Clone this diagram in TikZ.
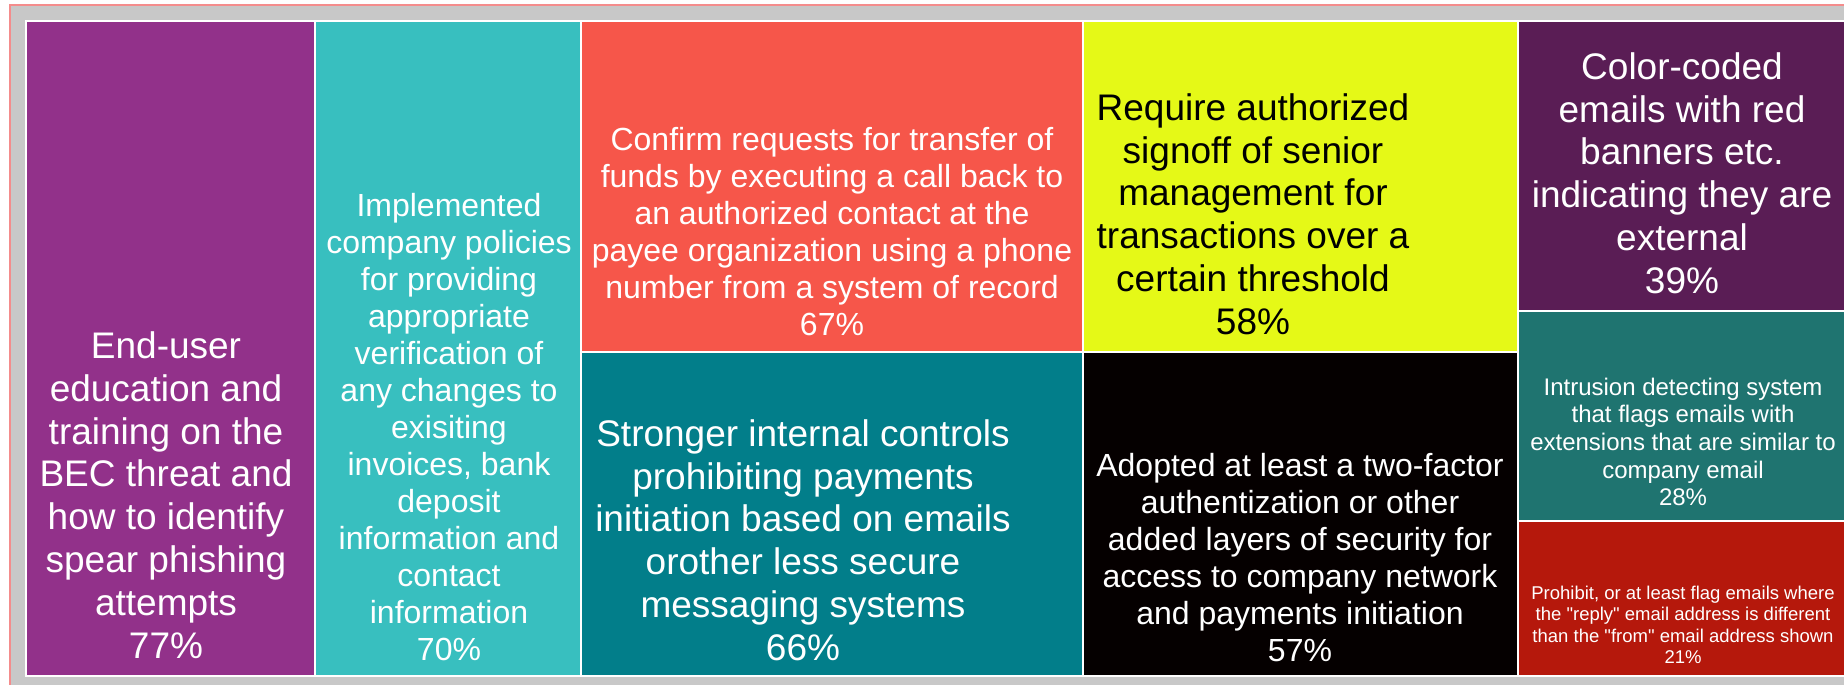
\documentclass[tikz,border=0pt]{standalone}
\usepackage{fontspec}
\setmainfont{Liberation Sans}
\definecolor{tmpurple}{RGB}{146, 49, 138}
\definecolor{tmaqua}{RGB}{56, 191, 191}
\definecolor{tmcoral}{RGB}{246, 86, 74}
\definecolor{tmteal}{RGB}{2, 126, 138}
\definecolor{tmlime}{RGB}{229, 249, 23}
\definecolor{tmblack}{RGB}{5, 0, 0}
\definecolor{tmplum}{RGB}{90, 29, 85}
\definecolor{tmsea}{RGB}{31, 116, 112}
\definecolor{tmred}{RGB}{181, 24, 12}
\definecolor{framegray}{RGB}{200, 200, 200}
\definecolor{framepink}{RGB}{244, 140, 140}

\begin{document}
\begin{tikzpicture}[x=1pt, y=1pt,
  lbl/.style={align=center, text=white, inner sep=0pt},
  hugelbl/.style={lbl, font=\fontsize{37}{42.8}\selectfont},
  biglbl/.style={lbl, font=\fontsize{32}{37}\selectfont},
  midlbl/.style={lbl, font=\fontsize{24}{27.6}\selectfont},
  smalllbl/.style={lbl, font=\fontsize{18.5}{21.4}\selectfont}]
  \useasboundingbox (0, 0) rectangle (1844, 685);

  % Frame behind the treemap
  \shade[left color=framegray, middle color=white, right color=framegray] (10, -5) rectangle (1850, 680);
  \draw[framepink, line width=1.5pt] (10, -5) -- (10, 680) -- (1850, 680);

  % Tiles
  \foreach \xa/\ya/\xb/\yb/\col in {26/9/315/664/tmpurple, 315/9/581/664/tmaqua, 581/333/1083/664/tmcoral, 581/9/1083/333/tmteal, 1083/333/1518/664/tmlime, 1083/9/1518/333/tmblack, 1518/374/1850/664/tmplum, 1518/164/1850/374/tmsea, 1518/9/1850/164/tmred} {
    \filldraw[fill=\col, draw=white, line width=1.2pt] (\xa, \ya) rectangle (\xb, \yb);
  }

  % Labels
  \node[hugelbl] (enduser) at (166, 190) {End-user\\education and\\training on the\\BEC threat and\\how to identify\\spear phishing\\attempts\\77\%};
  \node[biglbl] (policies) at (449, 258) {Implemented\\company policies\\for providing\\appropriate\\verification of\\any changes to\\exisiting\\invoices, bank\\deposit\\information and\\contact\\information\\70\%};
  \node[biglbl] (callback) at (832, 453) {Confirm requests for transfer of\\funds by executing a call back to\\an authorized contact at the\\payee organization using a phone\\number from a system of record\\67\%};
  \node[hugelbl] (controls) at (803, 145) {Stronger internal controls\\prohibiting payments\\initiation based on emails\\orother less secure\\messaging systems\\66\%};
  \node[hugelbl, text=black] (signoff) at (1253, 471) {Require authorized\\signoff of senior\\management for\\transactions over a\\certain threshold\\58\%};
  \node[biglbl] (twofactor) at (1300, 127) {Adopted at least a two-factor\\authentization or other\\added layers of security for\\access to company network\\and payments initiation\\57\%};
  \node[hugelbl] (colorcoded) at (1682, 512) {Color-coded\\emails with red\\banners etc.\\indicating they are\\external\\39\%};
  \node[midlbl] (intrusion) at (1683, 243) {Intrusion detecting system\\that flags emails with\\extensions that are similar to\\company email\\28\%};
  \node[smalllbl] (replyflag) at (1683, 60) {Prohibit, or at least flag emails where\\the \textquotedbl reply\textquotedbl{} email address is different\\than the \textquotedbl from\textquotedbl{} email address shown\\21\%};
\end{tikzpicture}
\end{document}
